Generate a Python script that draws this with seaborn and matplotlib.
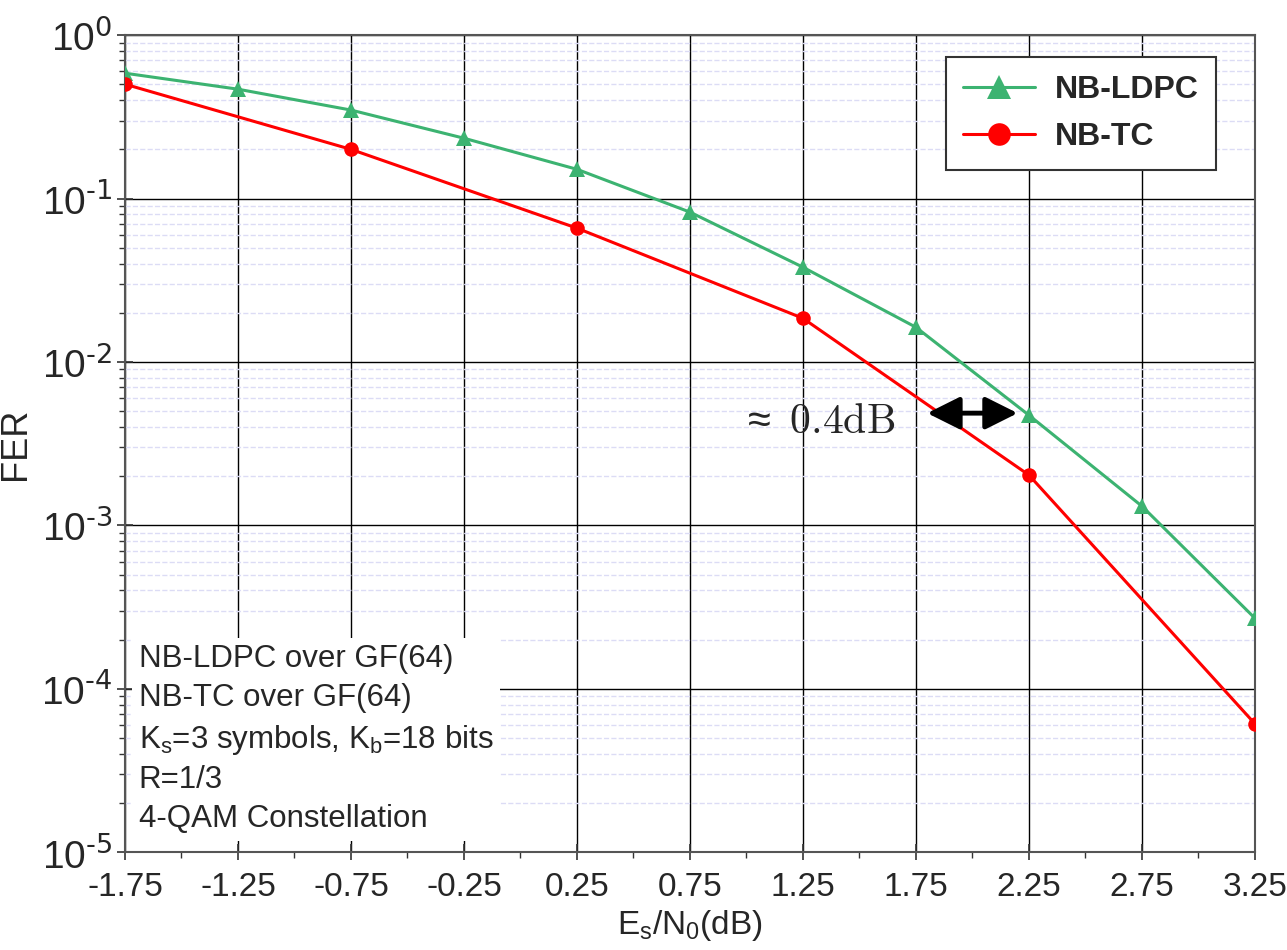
import numpy as np
import pandas as pd
import seaborn as sns
from matplotlib import pyplot as plt
from matplotlib.ticker import MultipleLocator, LogLocator, NullFormatter

# valores
snr_ldpc = [-1.75, -1.25, -0.75, -0.25, 0.25, 0.75, 1.25, 1.75, 2.25, 2.75, 3.25]
fer_ldpc = [0.585, 0.467, 0.348, 0.234, 0.151, 0.0826, 0.038, 0.0163, 0.00472, 0.00131, 0.00027]
snr_tc = [-1.75, -0.75, 0.25, 1.25, 2.25, 3.25]
fer_tc = [0.501, 0.200, 0.0659, 0.0185, 0.00203, 6.1e-5]
x_ticks = [-1.75, -1.25, -0.75, -0.25, 0.25, 0.75, 1.25, 1.75, 2.25, 2.75, 3.25]
y_ticks = [1e-5, 1e-4, 1e-3, 1e-2, 1e-1, 1e0]
y_labels = [r"$10^{\text{-5}}$", r"$10^{\text{-4}}$", r"$10^{\text{-3}}$",
            r"$10^{\text{-2}}$", r"$10^{\text{-1}}$", r"$10^{\text{0}}$"]
info_lines = [
    "NB-LDPC over GF(64)",
    "NB-TC over GF(64)",
    r"K$_\mathregular{s}$=3 symbols, K$_\mathregular{b}$=18 bits",
    "R=1/3",
    "4-QAM Constellation",
]

sns.set_style("white")
plt.rcParams["font.family"] = ["Liberation Sans", "DejaVu Sans"]
plt.rcParams["mathtext.default"] = "regular"

df_ldpc = pd.DataFrame({"snr": snr_ldpc, "fer": fer_ldpc})
df_tc = pd.DataFrame({"snr": snr_tc, "fer": fer_tc})

fig = plt.figure(figsize=(12.87, 9.5), dpi=100)
ax = fig.add_axes([0.0971, 0.103, 0.878, 0.860])

green = "#3cb371"
red = "#ff0000"
sns.lineplot(data=df_ldpc, x="snr", y="fer", ax=ax, color=green, marker="^",
             markersize=11, markeredgewidth=0, linewidth=2.2, label="NB-LDPC", zorder=4)
sns.lineplot(data=df_tc, x="snr", y="fer", ax=ax, color=red, marker="o",
             markersize=10.5, markeredgewidth=0, linewidth=2.2, label="NB-TC", zorder=4)

ax.set_yscale("log")
ax.set_xlim(-1.75, 3.25)
ax.set_ylim(1e-5, 1)
ax.set_xticks(x_ticks)
ax.set_xticklabels([f"{v:.2f}" for v in x_ticks])
ax.set_yticks(y_ticks)
ax.set_yticklabels(y_labels)
ax.xaxis.set_minor_locator(MultipleLocator(0.25))
ax.yaxis.set_minor_locator(LogLocator(base=10, subs=np.arange(2, 10), numticks=100))
ax.yaxis.set_minor_formatter(NullFormatter())

ax.grid(which="major", color="black", linewidth=1.0, linestyle="-")
ax.grid(which="minor", axis="y", color="#dcdcf5", linewidth=1.0, linestyle="--")
ax.grid(which="minor", axis="x", visible=False)
ax.set_axisbelow(True)

for sp in ax.spines.values():
    sp.set_color("#555555")
    sp.set_linewidth(1.5)
ax.tick_params(axis="both", which="major", direction="inout", length=12, width=1.2,
               color="#333333", left=True, bottom=True, top=False, right=False)
ax.tick_params(axis="both", which="minor", direction="out", length=4, width=1.0,
               color="#333333", left=True, bottom=True, top=False, right=False)
ax.tick_params(axis="x", labelsize=24, pad=8)
ax.tick_params(axis="y", labelsize=28, pad=3)

ax.set_xlabel(r"E$_\mathregular{s}$/N$_\mathregular{0}$(dB)", fontsize=24, labelpad=4)
ax.set_ylabel("FER", fontsize=26, labelpad=6)

leg = ax.legend(loc="upper right", bbox_to_anchor=(0.9655, 0.973), borderaxespad=0,
                prop={"weight": "bold", "size": 23}, frameon=True, fancybox=False,
                markerscale=1.55, handlelength=2.25, handletextpad=0.6,
                borderpad=0.55, labelspacing=0.55)
leg.get_frame().set_edgecolor("#333333")
leg.get_frame().set_linewidth(1.5)
leg.get_frame().set_alpha(1)

ax.text(0.012, 0.022, "\n".join(info_lines), transform=ax.transAxes, fontsize=22.5,
        va="bottom", ha="left", linespacing=1.38, zorder=5,
        bbox=dict(facecolor="white", edgecolor="none", pad=5))

ax.annotate("", xy=(1.80, 0.00486), xytext=(2.20, 0.00486),
            arrowprops=dict(arrowstyle="<|-|>,head_length=0.9,head_width=0.45",
                            color="black", lw=3.5, mutation_scale=22,
                            shrinkA=0, shrinkB=0), zorder=6)
ax.text(1.657, 0.00366, r"$\approx\ \mathrm{0.4dB}$", fontsize=30, ha="right", va="baseline",
        math_fontfamily="cm", zorder=6)

fig.savefig("out.png", dpi=100)
